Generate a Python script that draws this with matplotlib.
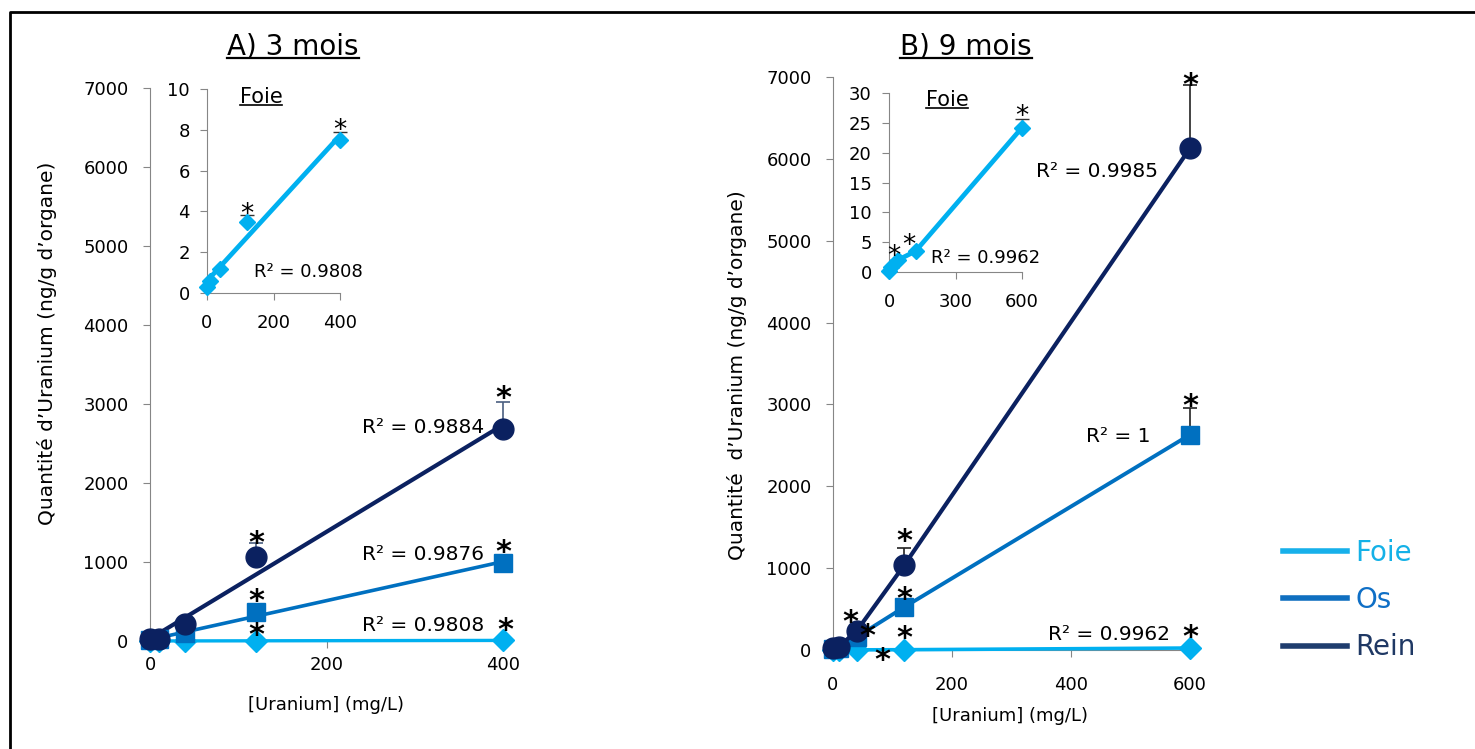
import numpy as np
import matplotlib
matplotlib.use("Agg")
from matplotlib import pyplot as plt
from matplotlib.lines import Line2D

# couleurs Excel
c_foie = '#00B0F0'
c_os = '#0070C0'
c_rein = '#0B2160'
gris = '#868686'

# ---- A) 3 mois ----
xA = [0, 10, 40, 120, 400]
foieA = [0.3, 0.6, 1.2, 3.5, 7.5]          # ng/g
osA = [10, 20, 100, 370, 990]
reinA = [20, 30, 210, 1060, 2680]
foieA_err = [0, 0, 0, 0.3, 0.4]
osA_err = [0, 0, 0, 0, 0]
reinA_err = [0, 0, 0, 180, 350]
r2A = ['R² = 0.9808', 'R² = 0.9876', 'R² = 0.9884']   # foie, os, rein

# ---- B) 9 mois ----
xB = [0, 10, 40, 120, 600]
foieB = [0.2, 0.8, 2.0, 3.5, 24.2]
osB = [10, 30, 160, 525, 2630]
reinB = [20, 40, 235, 1040, 6130]
foieB_err = [0, 0, 0, 0, 1.5]
osB_err = [0, 0, 0, 0, 325]
reinB_err = [0, 0, 0, 205, 770]
r2B = ['R² = 0.9962', 'R² = 1', 'R² = 0.9985']

legend_labels = ['Foie', 'Os', 'Rein']

plt.rcParams['font.family'] = ['DejaVu Sans']

fig = plt.figure(figsize=(14.75, 7.49), dpi=100)

def W(px):
    return px / 1475.0

def H(py):
    return 1 - py / 749.0

def style_axe(ax, fs=13, xpad=8, ypad=10):
    for s in ['top', 'right']:
        ax.spines[s].set_visible(False)
    for s in ['left', 'bottom']:
        ax.spines[s].set_color(gris)
    ax.tick_params(direction='out', length=5, color=gris, labelsize=fs)
    ax.tick_params(axis='x', pad=xpad)
    ax.tick_params(axis='y', pad=ypad)

def etoile(ax, x, y, dx, dy, fs=22, poids='bold'):
    # dx, dy in pixels from the marker centre to the glyph centre
    ax.annotate('*', xy=(x, y), xytext=(dx, dy - 0.33 * fs * 100 / 72.0),
                textcoords='offset pixels', ha='center', va='center',
                fontsize=fs, fontweight=poids, annotation_clip=False, zorder=6)

def erreurs(ax, x, y, e, col, lw=1.2):
    e = np.array(e, dtype=float)
    m = e > 0
    ax.errorbar(np.array(x)[m], np.array(y)[m], yerr=[np.zeros(m.sum()), e[m]],
                fmt='none', ecolor=col, elinewidth=lw, capsize=5, capthick=lw,
                clip_on=False, zorder=2)

def souligne(t, lw=1.6, dy=2):
    fig.canvas.draw()
    bb = t.get_window_extent()
    y = (bb.y0 + dy) / fig.bbox.height
    fig.add_artist(Line2D([bb.x0 / fig.bbox.width, bb.x1 / fig.bbox.width], [y, y],
                          transform=fig.transFigure, color='black', lw=lw))

# =============== panneau A ===============
axA = fig.add_axes([W(150), H(641), W(503) - W(150), H(88) - H(641)])
style_axe(axA, xpad=6, ypad=10.5)
axA.set_xlim(0, 400)
axA.set_ylim(0, 7000)
axA.set_xticks([0, 200, 400])
axA.set_yticks(range(0, 7001, 1000))

xs = np.array([0, 400])
for y, col, mk, ms, lw in [(foieA, c_foie, 'D', 11, 2.4), (osA, c_os, 's', 13, 2.6),
                           (reinA, c_rein, 'o', 15, 3.0)]:
    p = np.polyfit(xA, y, 1)
    axA.plot(xs, np.polyval(p, xs), color=col, lw=lw, clip_on=False, zorder=3)
    axA.plot(xA, y, ls='none', marker=mk, ms=ms, color=col, mec=col, clip_on=False, zorder=4)
erreurs(axA, xA, reinA, reinA_err, '#4a5f80')
erreurs(axA, xA, osA, osA_err, '#4a5f80')

for i, (dx, dy) in zip([3, 4], [(0, 24), (0, 41)]):
    etoile(axA, xA[i], reinA[i], dx, dy)
for i, (dx, dy) in zip([3, 4], [(0, 20), (0, 20)]):
    etoile(axA, xA[i], osA[i], dx, dy)
for i, (dx, dy) in zip([3, 4], [(0, 15), (2, 20)]):
    etoile(axA, xA[i], foieA[i], dx, dy)

for y, txt, dy in [(foieA, r2A[0], 15), (osA, r2A[1], 8), (reinA, r2A[2], 2)]:
    axA.annotate(txt, xy=(xA[-1], y[-1]), xytext=(-19, dy), textcoords='offset pixels',
                 ha='right', va='center', fontsize=14.5)

axA.set_ylabel('Quantité d’Uranium (ng/g d’organe)', fontsize=14.5, va='center')
axA.yaxis.set_label_coords((47 - 150) / 353.0, (641 - 343) / 553.0)
axA.set_xlabel('[Uranium] (mg/L)', fontsize=13, va='center')
axA.xaxis.set_label_coords(0.5, (641 - 705) / 553.0)

# encart A
inA = fig.add_axes([W(207), H(293), W(340) - W(207), H(89) - H(293)])
style_axe(inA, xpad=10, ypad=7.5)
inA.set_xlim(0, 400)
inA.set_ylim(0, 10)
inA.set_xticks([0, 200, 400])
inA.set_yticks(range(0, 11, 2))
p = np.polyfit(xA, foieA, 1)
inA.plot(xs, np.polyval(p, xs), color=c_foie, lw=3.4, clip_on=False, zorder=3)
inA.plot(xA, foieA, ls='none', marker='D', ms=8, color=c_foie, clip_on=False, zorder=4)
erreurs(inA, xA, foieA, foieA_err, '#333333', lw=1.0)
etoile(inA, xA[3], foieA[3], 0, 15, fs=19, poids='normal')
etoile(inA, xA[4], foieA[4], 0, 18, fs=19, poids='normal')
inA.text((363 - 207) / 133.0, (293 - 272) / 204.0, r2A[0], transform=inA.transAxes,
         ha='right', va='center', fontsize=13)
tA = inA.text((261 - 207) / 133.0, (293 - 97) / 204.0, 'Foie', transform=inA.transAxes,
              ha='center', va='center', fontsize=15)

# =============== panneau B ===============
axB = fig.add_axes([W(833), H(650), W(1190) - W(833), H(77) - H(650)])
style_axe(axB, xpad=14, ypad=10.5)
axB.set_xlim(0, 600)
axB.set_ylim(0, 7000)
axB.set_xticks([0, 200, 400, 600])
axB.set_yticks(range(0, 7001, 1000))

for y, col, mk, ms, lw in [(foieB, c_foie, 'D', 11, 2.6), (osB, c_os, 's', 13, 2.8),
                           (reinB, c_rein, 'o', 15, 3.0)]:
    axB.plot(xB, y, color=col, lw=lw, marker=mk, ms=ms, mec=col, clip_on=False, zorder=3)
erreurs(axB, xB, reinB, reinB_err, '#222222')
erreurs(axB, xB, osB, osB_err, '#222222')

for i, (dx, dy) in zip([2, 3, 4], [(-6, 18), (0, 33), (0, 73)]):
    etoile(axB, xB[i], reinB[i], dx, dy)
for i, (dx, dy) in zip([2, 3, 4], [(11, 10), (0, 18), (0, 38)]):
    etoile(axB, xB[i], osB[i], dx, dy)
for i, (dx, dy) in zip([2, 3, 4], [(26, -1), (0, 21), (0, 21)]):
    etoile(axB, xB[i], foieB[i], dx, dy)

for y, txt, dx, dy in [(foieB, r2B[0], -20, 14), (osB, r2B[1], -40, -2), (reinB, r2B[2], -32, -23)]:
    axB.annotate(txt, xy=(xB[-1], y[-1]), xytext=(dx, dy), textcoords='offset pixels',
                 ha='right', va='center', fontsize=14.5)

axB.set_ylabel('Quantité  d’Uranium (ng/g d’organe)', fontsize=14.5, va='center')
axB.yaxis.set_label_coords((737 - 833) / 357.0, (650 - 375) / 573.0)
axB.set_xlabel('[Uranium] (mg/L)', fontsize=13, va='center')
axB.xaxis.set_label_coords((1010 - 833) / 357.0, (650 - 716) / 573.0)

# encart B
inB = fig.add_axes([W(889), H(272), W(1022) - W(889), H(93) - H(272)])
style_axe(inB, xpad=10, ypad=7.5)
inB.set_xlim(0, 600)
inB.set_ylim(0, 30)
inB.set_xticks([0, 300, 600])
inB.set_yticks(range(0, 31, 5))
inB.plot(xB, foieB, color=c_foie, lw=3.4, marker='D', ms=8, clip_on=False, zorder=3)
erreurs(inB, xB, foieB, foieB_err, '#333333', lw=1.0)
etoile(inB, xB[2], foieB[2], -4, 12, fs=19, poids='normal')
etoile(inB, xB[3], foieB[3], -7, 14, fs=19, poids='normal')
etoile(inB, xB[4], foieB[4], 0, 19, fs=19, poids='normal')
inB.text((1040 - 889) / 133.0, (272 - 258) / 179.0, r2B[0], transform=inB.transAxes,
         ha='right', va='center', fontsize=13)
tB = inB.text((947 - 889) / 133.0, (272 - 100) / 179.0, 'Foie', transform=inB.transAxes,
              ha='center', va='center', fontsize=15)

# titres
t1 = fig.text(W(293), H(46), 'A) 3 mois', ha='center', va='center', fontsize=20)
t2 = fig.text(W(966), H(46), 'B) 9 mois', ha='center', va='center', fontsize=20)

# légende
poignees = [Line2D([], [], color='#17B0EA', lw=4),
            Line2D([], [], color='#0F6FC0', lw=4),
            Line2D([], [], color='#1F3D6E', lw=4)]
leg = fig.legend(poignees, legend_labels, loc='center left', bbox_to_anchor=(W(1283), H(600)),
                 frameon=False, fontsize=20, handlelength=2.3, handletextpad=0.3,
                 labelspacing=0.7, borderpad=0, borderaxespad=0,
                 labelcolor=['#14B1E7', '#0F6FC6', '#1F3864'])

# cadre
fig.add_artist(Line2D([W(10), W(10), 1.0], [0.0, H(12), H(12)], transform=fig.transFigure,
                      color='black', lw=2))

souligne(t1)
souligne(t2)
souligne(tA, lw=1.2)
souligne(tB, lw=1.2)

fig.savefig('out.png', dpi=100)
